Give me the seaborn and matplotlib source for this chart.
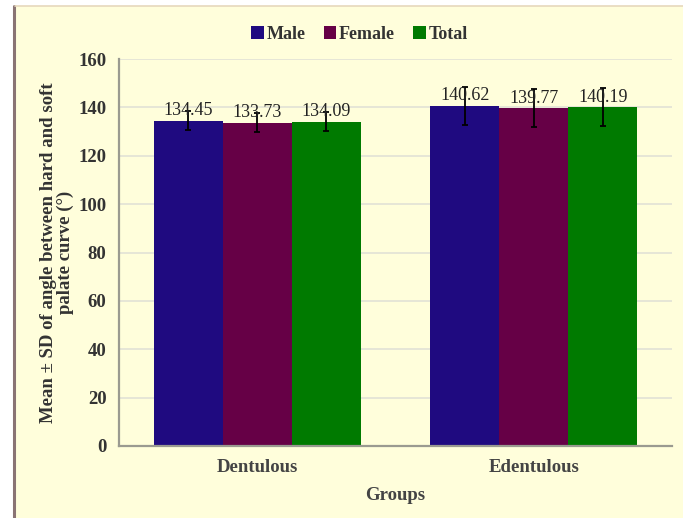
import matplotlib
matplotlib.use("Agg")
import matplotlib.pyplot as plt
import seaborn as sns
import pandas as pd
from matplotlib.lines import Line2D
from matplotlib.patches import Rectangle

groups = ["Dentulous", "Edentulous"]
series = ["Male", "Female", "Total"]
male_mean = [134.45, 140.62]
female_mean = [133.73, 139.77]
total_mean = [134.09, 140.19]
male_sd = [4.0, 8.0]
female_sd = [3.9, 7.8]
total_sd = [3.9, 7.7]
y_ticks = [0, 20, 40, 60, 80, 100, 120, 140, 160]

colors = {"Male": "#1f0a80", "Female": "#660046", "Total": "#007a00"}
bg = "#fffedb"

rows = []
for s, means, sds in zip(series, [male_mean, female_mean, total_mean],
                         [male_sd, female_sd, total_sd]):
    for g, m, sd in zip(groups, means, sds):
        rows.append({"Group": g, "Series": s, "Mean": m, "SD": sd})
df = pd.DataFrame(rows)

sns.set_theme(style="white")
plt.rcParams["font.family"] = ["Liberation Serif", "DejaVu Serif"]

fig = plt.figure(figsize=(6.83, 5.18), dpi=100)
fig.patch.set_facecolor("white")
# framed panel
fig.add_artist(Rectangle((15 / 683, 0), 1 - 15 / 683, 1 - 6 / 518,
                         transform=fig.transFigure, facecolor=bg,
                         edgecolor="none", zorder=-10))
fig.add_artist(Line2D([14 / 683, 14 / 683], [0, 1 - 6 / 518],
                      transform=fig.transFigure, color="#8a7474", lw=2.2))
fig.add_artist(Line2D([15 / 683, 1], [1 - 6 / 518, 1 - 6 / 518],
                      transform=fig.transFigure, color="#e6d8bc", lw=1.2))

ax = fig.add_axes([119 / 683, 1 - 446 / 518, (672 - 119) / 683, (446 - 59) / 518])
ax.set_facecolor(bg)

sns.barplot(data=df, x="Group", y="Mean", hue="Series", order=groups,
            hue_order=series, palette=colors, width=0.75, errorbar=None,
            saturation=1, ax=ax, zorder=2, edgecolor="none")

# error bars and value labels per series container
for container, s in zip(ax.containers, series):
    sub = df[df["Series"] == s].set_index("Group").loc[groups]
    xs = [p.get_x() + p.get_width() / 2 for p in container.patches]
    ax.errorbar(xs, sub["Mean"].values, yerr=sub["SD"].values, fmt="none",
                ecolor="black", elinewidth=1.3, capsize=2.5, capthick=1.3,
                zorder=4)
    ax.bar_label(container, labels=[f"{v:.2f}" for v in sub["Mean"].values],
                 padding=1, fontsize=13, color="#222222", zorder=5)

ax.set_ylim(0, 160)
ax.set_xlim(-0.5, 1.5)
ax.set_yticks(y_ticks)
ax.set_yticklabels([str(t) for t in y_ticks], fontsize=13.5, fontweight="bold",
                   color="#333333")
ax.set_xticks(range(len(groups)))
ax.set_xticklabels(groups, fontsize=13.5, fontweight="bold", color="#444444")
ax.tick_params(axis="y", length=0, pad=9)
ax.tick_params(axis="x", length=0, pad=9)
ax.yaxis.grid(True, color="#e2e2d6", lw=1.2, zorder=0)
ax.set_axisbelow(True)
for side in ["top", "right"]:
    ax.spines[side].set_visible(False)
for side in ["left", "bottom"]:
    ax.spines[side].set_color("#9a9a90")
    ax.spines[side].set_linewidth(1.6)

ax.set_xlabel("Groups", fontsize=13.5, fontweight="bold", color="#444444",
              labelpad=8)
ax.set_ylabel("Mean ± SD of angle between hard and soft\npalate curve (°)",
              fontsize=13.5, fontweight="bold", color="#333333", labelpad=3,
              linespacing=1.0)

handles, labels = ax.get_legend_handles_labels()
ax.legend(handles, labels, loc="lower center", bbox_to_anchor=(0.435, 1.0),
          ncol=3, frameon=False, handlelength=0.7, handleheight=0.7,
          handletextpad=0.15, columnspacing=1.0,
          prop={"family": "Liberation Serif", "weight": "bold", "size": 13},
          labelcolor="#333333")

fig.savefig("out.png", dpi=100, facecolor=fig.get_facecolor())
